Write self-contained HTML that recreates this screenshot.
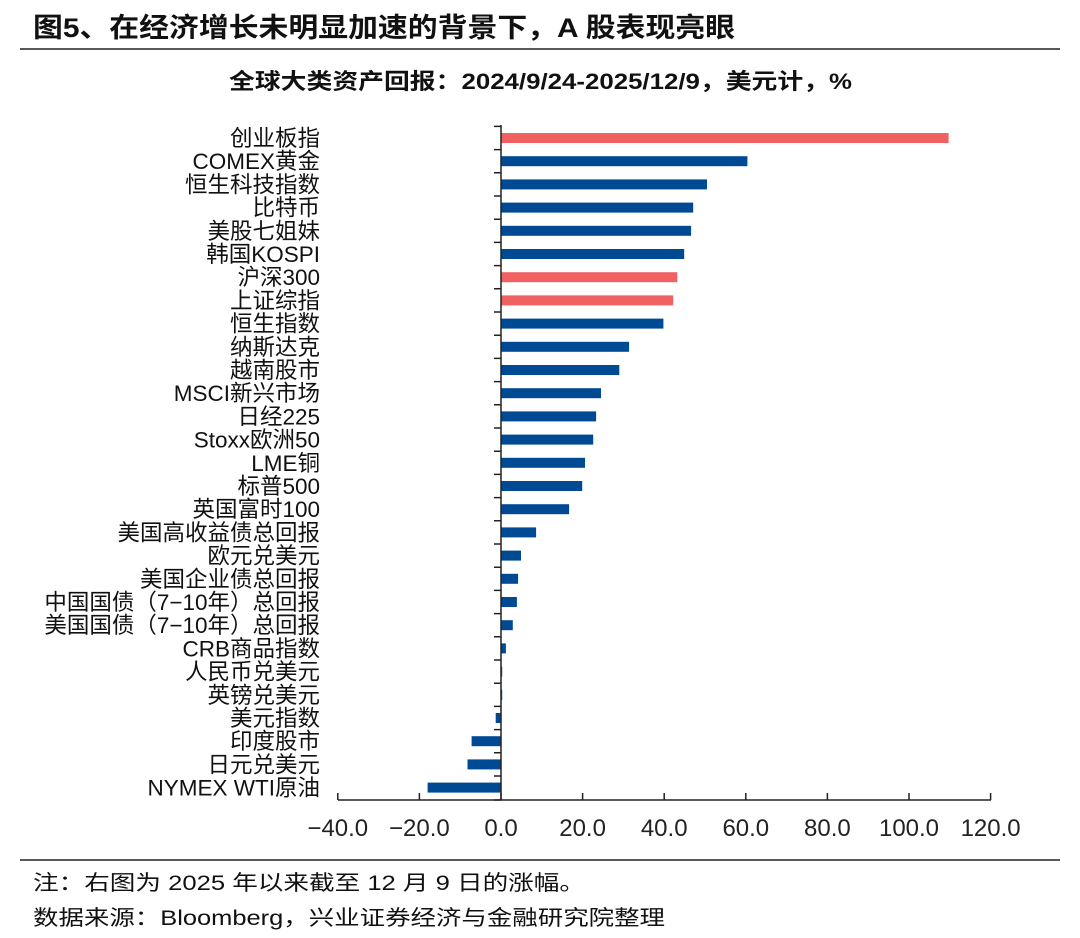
<!DOCTYPE html>
<html><head><meta charset="utf-8"><style>
body{margin:0;background:#fff;}
svg{display:block;font-family:"Liberation Sans","Noto Sans CJK SC",sans-serif;}
</style></head><body>
<svg width="1080" height="938" xmlns="http://www.w3.org/2000/svg">
<text x="33" y="37" font-size="27" font-weight="bold" fill="#111" textLength="702" lengthAdjust="spacingAndGlyphs">图5、在经济增长未明显加速的背景下，A 股表现亮眼</text>
<line x1="20" y1="49" x2="1060" y2="49" stroke="#222" stroke-width="1.5"/>
<text x="229" y="89" font-size="22" font-weight="bold" fill="#111" textLength="623" lengthAdjust="spacingAndGlyphs">全球大类资产回报：2024/9/24-2025/12/9，美元计，%</text>
<g>
<rect x="501" y="133" width="447.6" height="10" fill="#F06262"/>
<rect x="501" y="156.2" width="246.4" height="10" fill="#004A94"/>
<rect x="501" y="179.4" width="206" height="10" fill="#004A94"/>
<rect x="501" y="202.6" width="192.2" height="10" fill="#004A94"/>
<rect x="501" y="225.8" width="190.1" height="10" fill="#004A94"/>
<rect x="501" y="249" width="183.2" height="10" fill="#004A94"/>
<rect x="501" y="272.2" width="176.3" height="10" fill="#F06262"/>
<rect x="501" y="295.4" width="172.2" height="10" fill="#F06262"/>
<rect x="501" y="318.6" width="162.4" height="10" fill="#004A94"/>
<rect x="501" y="341.8" width="128.1" height="10" fill="#004A94"/>
<rect x="501" y="365" width="118.3" height="10" fill="#004A94"/>
<rect x="501" y="388.2" width="100" height="10" fill="#004A94"/>
<rect x="501" y="411.4" width="95.1" height="10" fill="#004A94"/>
<rect x="501" y="434.6" width="92.2" height="10" fill="#004A94"/>
<rect x="501" y="457.8" width="84" height="10" fill="#004A94"/>
<rect x="501" y="481" width="81.2" height="10" fill="#004A94"/>
<rect x="501" y="504.2" width="68.1" height="10" fill="#004A94"/>
<rect x="501" y="527.4" width="35.1" height="10" fill="#004A94"/>
<rect x="501" y="550.6" width="20" height="10" fill="#004A94"/>
<rect x="501" y="573.8" width="17.1" height="10" fill="#004A94"/>
<rect x="501" y="597" width="15.9" height="10" fill="#004A94"/>
<rect x="501" y="620.2" width="11.8" height="10" fill="#004A94"/>
<rect x="501" y="643.4" width="4.9" height="10" fill="#004A94"/>
<rect x="501" y="666.6" width="1.2" height="10" fill="#004A94"/>
<rect x="501" y="689.8" width="1.2" height="10" fill="#004A94"/>
<rect x="495.7" y="713" width="5.3" height="10" fill="#004A94"/>
<rect x="471.6" y="736.2" width="29.4" height="10" fill="#004A94"/>
<rect x="467.5" y="759.4" width="33.5" height="10" fill="#004A94"/>
<rect x="427.6" y="782.6" width="73.4" height="10" fill="#004A94"/>
</g>
<g font-size="22.5" text-anchor="end" fill="#111">
<text x="320" y="146">创业板指</text>
<text x="320" y="169.2">COMEX黄金</text>
<text x="320" y="192.4">恒生科技指数</text>
<text x="320" y="215.6">比特币</text>
<text x="320" y="238.8">美股七姐妹</text>
<text x="320" y="262">韩国KOSPI</text>
<text x="320" y="285.2">沪深300</text>
<text x="320" y="308.4">上证综指</text>
<text x="320" y="331.6">恒生指数</text>
<text x="320" y="354.8">纳斯达克</text>
<text x="320" y="378">越南股市</text>
<text x="320" y="401.2">MSCI新兴市场</text>
<text x="320" y="424.4">日经225</text>
<text x="320" y="447.6">Stoxx欧洲50</text>
<text x="320" y="470.8">LME铜</text>
<text x="320" y="494">标普500</text>
<text x="320" y="517.2">英国富时100</text>
<text x="320" y="540.4">美国高收益债总回报</text>
<text x="320" y="563.6">欧元兑美元</text>
<text x="320" y="586.8">美国企业债总回报</text>
<text x="320" y="610">中国国债（7−10年）总回报</text>
<text x="320" y="633.2">美国国债（7−10年）总回报</text>
<text x="320" y="656.4">CRB商品指数</text>
<text x="320" y="679.6">人民币兑美元</text>
<text x="320" y="702.8">英镑兑美元</text>
<text x="320" y="726">美元指数</text>
<text x="320" y="749.2">印度股市</text>
<text x="320" y="772.4">日元兑美元</text>
<text x="320" y="795.6">NYMEX WTI原油</text>
</g>
<path stroke="#222" stroke-width="1.5" fill="none" d="M494 126.4H501M494 149.6H501M494 172.8H501M494 196H501M494 219.2H501M494 242.4H501M494 265.6H501M494 288.8H501M494 312H501M494 335.2H501M494 358.4H501M494 381.6H501M494 404.8H501M494 428H501M494 451.2H501M494 474.4H501M494 497.6H501M494 520.8H501M494 544H501M494 567.2H501M494 590.4H501M494 613.6H501M494 636.8H501M494 660H501M494 683.2H501M494 706.4H501M494 729.6H501M494 752.8H501M494 776H501M494 800H501
M337.8 793V800M419.4 793V800M501 793V800M582.6 793V800M664.2 793V800M745.8 793V800M827.4 793V800M909 793V800M990.6 793V800"/>
<line x1="501" y1="125" x2="501" y2="800" stroke="#222" stroke-width="1.5"/>
<line x1="338" y1="800" x2="991" y2="800" stroke="#222" stroke-width="1.5"/>
<g font-size="24" fill="#222" text-anchor="middle">
<text x="337.8" y="836">−40.0</text>
<text x="419.4" y="836">−20.0</text>
<text x="501" y="836">0.0</text>
<text x="582.6" y="836">20.0</text>
<text x="664.2" y="836">40.0</text>
<text x="745.8" y="836">60.0</text>
<text x="827.4" y="836">80.0</text>
<text x="909" y="836">100.0</text>
<text x="990.6" y="836">120.0</text>
</g>
<line x1="20" y1="860" x2="1060" y2="860" stroke="#222" stroke-width="1.5"/>
<text x="33" y="890" font-size="21" fill="#111" textLength="552" lengthAdjust="spacingAndGlyphs">注：右图为 2025 年以来截至 12 月 9 日的涨幅。</text>
<text x="33" y="925" font-size="21" fill="#111" textLength="632" lengthAdjust="spacingAndGlyphs">数据来源：Bloomberg，兴业证券经济与金融研究院整理</text>
</svg>
</body></html>
